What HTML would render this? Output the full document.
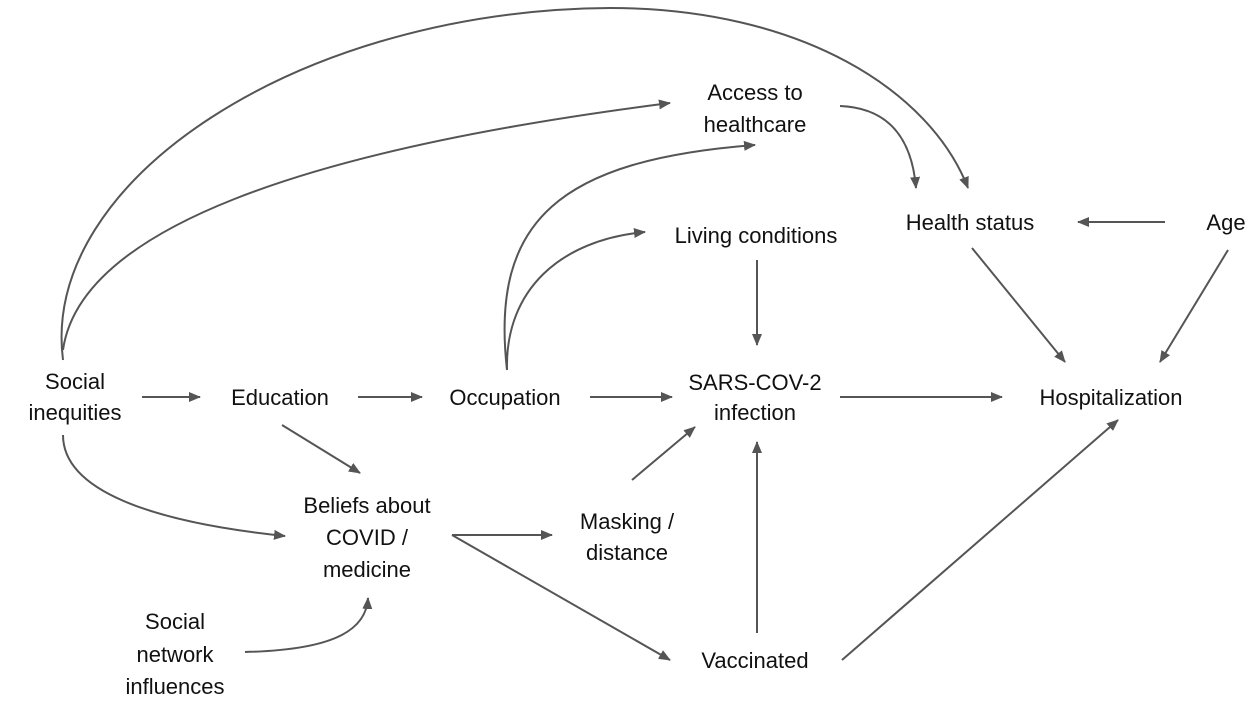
<!DOCTYPE html>
<html><head><meta charset="utf-8"><style>
html,body{margin:0;padding:0;background:#fff;}
svg{display:block;}
text{font-family:"Liberation Sans",sans-serif;font-size:22px;fill:#111;text-anchor:middle;}
path,line{stroke:#555;stroke-width:2;fill:none;}
</style></head><body>
<svg width="1254" height="704" viewBox="0 0 1254 704">
<defs><marker id="a" markerWidth="12" markerHeight="10" refX="11" refY="5" orient="auto" markerUnits="userSpaceOnUse"><path d="M0,0 L12,5 L0,10 z" style="fill:#555;stroke:none"/></marker></defs>
<g marker-end="url(#a)">
<line x1="142" y1="397" x2="200" y2="397"/>
<line x1="358" y1="397" x2="422" y2="397"/>
<line x1="590" y1="397" x2="672" y2="397"/>
<line x1="840" y1="397" x2="1002" y2="397"/>
<line x1="282" y1="425" x2="360" y2="473"/>
<path d="M63,435 C63,490 150,522 285,536"/>
<line x1="452" y1="535" x2="552" y2="535"/>
<line x1="452" y1="535" x2="670" y2="660"/>
<line x1="632" y1="480" x2="695" y2="427"/>
<line x1="757" y1="633" x2="757" y2="442"/>
<line x1="842" y1="660" x2="1118" y2="420"/>
<path d="M245,652 C330,650 366,632 368,598"/>
<line x1="757" y1="260" x2="757" y2="345"/>
<path d="M507,370 C505,290 560,240 645,232"/>
<path d="M507,370 C490,220 560,160 755,145"/>
<path d="M63,350 C80,230 300,150 670,103"/>
<path d="M63,360 C40,180 300,10 610,8 C800,8 930,90 968,188"/>
<path d="M840,106 C890,108 912,140 916,188"/>
<line x1="1165" y1="222" x2="1078" y2="222"/>
<line x1="972" y1="248" x2="1065" y2="362"/>
<line x1="1228" y1="250" x2="1160" y2="362"/>
</g>
<text x="75" y="389">Social</text><text x="75" y="420">inequities</text>
<text x="280" y="405">Education</text>
<text x="505" y="405">Occupation</text>
<text x="755" y="390">SARS-COV-2</text><text x="755" y="420">infection</text>
<text x="1111" y="405">Hospitalization</text>
<text x="755" y="100">Access to</text><text x="755" y="132">healthcare</text>
<text x="756" y="243">Living conditions</text>
<text x="970" y="230">Health status</text>
<text x="1226" y="230">Age</text>
<text x="367" y="513">Beliefs about</text><text x="367" y="545">COVID /</text><text x="367" y="577">medicine</text>
<text x="627" y="529">Masking /</text><text x="627" y="560">distance</text>
<text x="175" y="629">Social</text><text x="175" y="662">network</text><text x="175" y="694">influences</text>
<text x="755" y="668">Vaccinated</text>
</svg>
</body></html>
